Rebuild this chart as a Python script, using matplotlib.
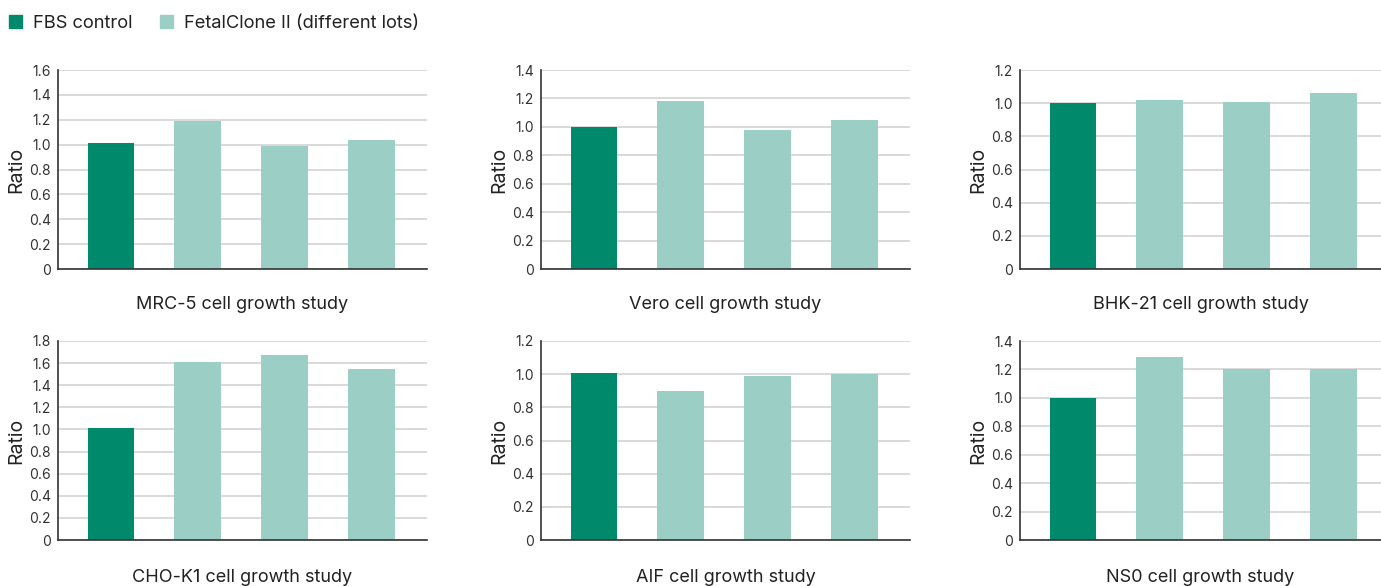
import matplotlib.pyplot as plt
from matplotlib.patches import Patch
from matplotlib.ticker import FuncFormatter

plt.rcParams['font.family'] = ['Inter', 'DejaVu Sans']

# Daten: Verhältnis zur FBS-Kontrolle, je Zelllinie
studies = ['MRC-5', 'Vero', 'BHK-21', 'CHO-K1', 'AIF', 'NS0']
fbs_control = [1.01, 1.00, 1.00, 1.01, 1.01, 1.00]
fetalclone_lots = [
    [1.19, 0.99, 1.04],
    [1.18, 0.98, 1.05],
    [1.02, 1.01, 1.06],
    [1.61, 1.67, 1.55],
    [0.90, 0.99, 1.00],
    [1.29, 1.20, 1.20],
]
y_max = [1.6, 1.4, 1.2, 1.8, 1.2, 1.4]

dark = '#00896b'
light = '#9bcec5'

fig = plt.figure(figsize=(13.81, 5.86), dpi=100)

W, H = 1381, 586
# pixel boxes (left, top, right, bottom) for each panel
boxes = [
    (58, 70, 427, 269), (541, 70, 910, 269), (1020, 70, 1381, 269),
    (58, 341, 427, 540), (541, 341, 910, 540), (1020, 341, 1381, 540),
]

fmt = FuncFormatter(lambda v, p: '0' if abs(v) < 1e-9 else f'{v:.1f}')

for i, name in enumerate(studies):
    l, t, r, b = boxes[i]
    ax = fig.add_axes([l / W, 1 - b / H, (r - l) / W, (b - t) / H])
    vals = [fbs_control[i]] + fetalclone_lots[i]
    cols = [dark] + [light] * len(fetalclone_lots[i])
    ax.bar(range(len(vals)), vals, width=0.54, color=cols, zorder=3)
    right = 3.55 if r >= W else 3.64
    ax.set_xlim(-0.61, right)
    ax.set_ylim(0, y_max[i])
    ticks = [k * 0.2 for k in range(int(round(y_max[i] / 0.2)) + 1)]
    ax.set_yticks(ticks)
    ax.yaxis.set_major_formatter(fmt)
    ax.set_xticks([])
    ax.grid(axis='y', color='#d9d9d9', linewidth=1.4, zorder=0)
    for s in ['top', 'right']:
        ax.spines[s].set_visible(False)
    for s in ['left', 'bottom']:
        ax.spines[s].set_color('#333333')
        ax.spines[s].set_linewidth(1.2)
        ax.spines[s].set_zorder(4)
    ax.tick_params(axis='y', length=0, pad=5, labelsize=10, labelcolor='#333333')
    ax.set_ylabel('Ratio', fontsize=14, color='#222222')
    ax.yaxis.set_label_coords(-33 / (r - l), 0.5)
    off = 35 if i < 3 else 37
    ax.text(0.5, -off / (b - t), f'{name} cell growth study', transform=ax.transAxes,
            ha='center', va='center', fontsize=13, color='#222222')

handles = [Patch(color=dark, label='FBS control'),
           Patch(color=light, label='FetalClone II (different lots)')]
fig.legend(handles=handles, loc='center left', bbox_to_anchor=(9 / W, 1 - 23 / H),
           ncol=2, frameon=False, fontsize=13.2, handlelength=0.72, handleheight=0.72,
           handletextpad=0.6, columnspacing=1.5, labelcolor='#222222',
           borderpad=0, borderaxespad=0)

fig.savefig('out.png', dpi=100)
